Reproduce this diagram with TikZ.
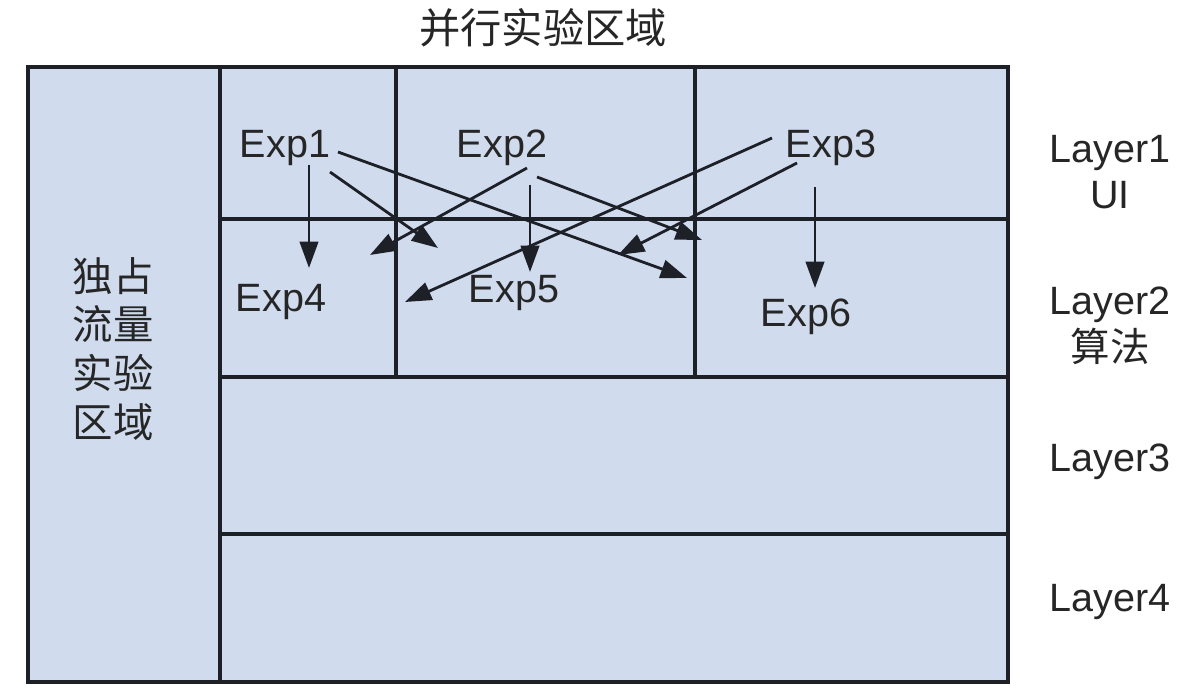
\documentclass[tikz,border=0pt]{standalone}
\usepackage{fontspec}
\setmainfont{Liberation Sans}
\newfontfamily\cjk{Noto Sans CJK SC}
\usetikzlibrary{arrows.meta}
\definecolor{cellblue}{RGB}{208,220,238}
\definecolor{gridline}{RGB}{30,32,40}
\tikzset{
  grid/.style={draw=gridline, line width=1.9pt},
  exparrow/.style={-{Triangle[length=15pt,width=10.5pt]}, line width=1.6pt, draw=gridline},
  lbl/.style={font=\fontsize{22.5}{26.5}\selectfont, inner sep=0pt, text=black!85},
  cjklbl/.style={font=\cjk\fontsize{23.5}{28}\selectfont, inner sep=0pt, text=black!85, align=center},
}
\begin{document}
\begin{tikzpicture}[x=0.02cm,y=-0.02cm]
\useasboundingbox (0,0) rectangle (1202,692);
% background and grid
\fill[cellblue] (28,67) rectangle (1008,682);
\draw[grid] (28,67) rectangle (1008,682);
\draw[grid] (220,67) -- (220,682);
\draw[grid] (220,219) -- (1008,219);
\draw[grid] (220,377) -- (1008,377);
\draw[grid] (220,534) -- (1008,534);
\draw[grid] (396,67) -- (396,377);
\draw[grid] (695,67) -- (695,377);

% titles
\node[cjklbl] (title) at (543,28) {并行实验区域};
\node[cjklbl, font=\cjk\fontsize{23}{27.8}\selectfont] (excl) at (113,349) {独占\\流量\\实验\\区域};
\node[lbl, align=center] (layer1) at (1110,172) {Layer1\\UI};
\node[lbl, align=center] (layer2) at (1110,326) {Layer2\\{\cjk 算法}};
\node[lbl] (layer3) at (1110,462) {Layer3};
\node[lbl] (layer4) at (1110,602) {Layer4};

% experiments
\node[lbl] (exp1) at (285,148) {Exp1};
\node[lbl] (exp2) at (502,148) {Exp2};
\node[lbl] (exp3) at (831,148) {Exp3};
\node[lbl] (exp4) at (281,302) {Exp4};
\node[lbl] (exp5) at (514,293) {Exp5};
\node[lbl] (exp6) at (806,317) {Exp6};

% arrow ends
\coordinate (e1a) at (309,165);  \coordinate (t1a) at (309,268);
\coordinate (e1b) at (330,172);  \coordinate (t1b) at (438,248);
\coordinate (e1c) at (338,152);  \coordinate (t1c) at (687,278);
\coordinate (e2a) at (527,168);  \coordinate (t2a) at (370,255);
\coordinate (e2b) at (530,185);  \coordinate (t2b) at (530,272);
\coordinate (e2c) at (537,177);  \coordinate (t2c) at (702,240);
\coordinate (e3a) at (772,138);  \coordinate (t3a) at (405,302);
\coordinate (e3b) at (797,163);  \coordinate (t3b) at (618,255);
\coordinate (e3c) at (815,187);  \coordinate (t3c) at (815,288);

\draw[exparrow] (e1a) -- (t1a);
\draw[exparrow] (e1b) -- (t1b);
\draw[exparrow] (e1c) -- (t1c);
\draw[exparrow] (e2a) -- (t2a);
\draw[exparrow] (e2b) -- (t2b);
\draw[exparrow] (e2c) -- (t2c);
\draw[exparrow] (e3a) -- (t3a);
\draw[exparrow] (e3b) -- (t3b);
\draw[exparrow] (e3c) -- (t3c);
\end{tikzpicture}
\end{document}
